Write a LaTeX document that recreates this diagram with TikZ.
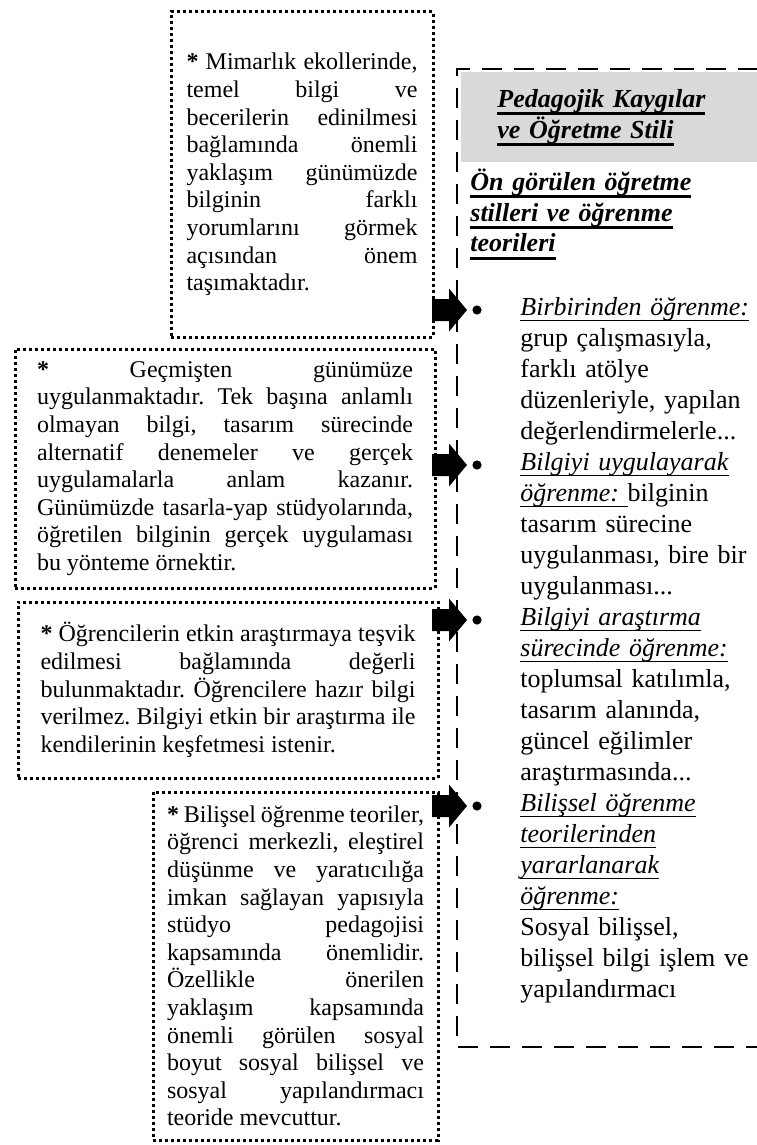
\documentclass[tikz,border=0pt]{standalone}
\usepackage{fontspec}
\setmainfont{Liberation Serif}
\frenchspacing

\definecolor{hdrgray}{HTML}{D9D9D9}
\newcommand{\boxfont}{\fontsize{12pt}{13.8pt}\selectfont\lineskiplimit=-20pt\lineskip=0pt}
\newcommand{\panelfont}{\fontsize{13pt}{15.5pt}\selectfont\lineskiplimit=-20pt\lineskip=0pt}
\newcommand{\ulx}[3]{\leavevmode\setbox0\hbox{#3}\rlap{\rule[#2]{\wd0}{#1}}\box0}
\newcommand{\thickul}[1]{\ulx{1.3pt}{-3.8pt}{#1}}
\newcommand{\thinul}[1]{\ulx{0.7pt}{-3.2pt}{#1}}

\tikzset{
  notebox/.style={draw, line width=1.5pt, dash pattern=on 1.5pt off 1.5pt,
    align=justify, inner ysep=0pt, font=\boxfont},
  panelline/.style={line width=1pt, dash pattern=on 10pt off 6pt},
  paneltext/.style={anchor=base west, inner sep=0pt, text width=122pt, align=left, font=\panelfont},
  dot/.style={circle, fill, inner sep=0pt, minimum size=4.6pt}
}

\begin{document}
\begin{tikzpicture}[x=0.5pt, y=-0.5pt]
  \useasboundingbox (0,0) rectangle (756,1145);

  % Right panel: heading and frame
  \node[fill=hdrgray, anchor=north west, minimum width=150pt, minimum height=45pt,
        inner xsep=18pt, text width=114pt, align=left, font=\panelfont\bfseries\itshape]
        (hdr) at (461,72) {\thickul{Pedagojik Kaygılar}\\\thickul{ve Öğretme Stili}};
  \draw[panelline] (790,69) -- (457,69) -- (457,1047) -- (790,1047);

  \node[paneltext, font=\panelfont\bfseries\itshape] (sub) at (470,190)
    {\thickul{Ön görülen öğretme}\\\thickul{stilleri ve öğrenme}\\\thickul{teorileri}};

  % Right panel: items
  \node[dot] (d1) at (477,310) {};
  \node[paneltext] (it1) at (520,315)
    {\thinul{\textit{Birbirinden öğrenme:}}\\grup çalışmasıyla,\\farklı atölye\\düzenleriyle, yapılan\\değerlendirmelerle...};
  \node[dot] (d2) at (477,465) {};
  \node[paneltext] (it2) at (520,470)
    {\thinul{\textit{Bilgiyi uygulayarak}}\\\thinul{\textit{öğrenme:}\ }bilginin\\tasarım sürecine\\uygulanması, bire bir\\uygulanması...};
  \node[dot] (d3) at (477,620) {};
  \node[paneltext] (it3) at (520,625)
    {\thinul{\textit{Bilgiyi araştırma}}\\\thinul{\textit{sürecinde öğrenme:}}\\toplumsal katılımla,\\tasarım alanında,\\güncel eğilimler\\araştırmasında...};
  \node[dot] (d4) at (477,806) {};
  \node[paneltext] (it4) at (520,811)
    {\thinul{\textit{Bilişsel öğrenme}}\\\thinul{\textit{teorilerinden}}\\\thinul{\textit{yararlanarak}}\\\thinul{\textit{öğrenme:}}\\Sosyal bilişsel,\\bilişsel bilgi işlem ve\\yapılandırmacı};

  % Left notes
  \node[notebox, minimum width=131pt, minimum height=162.5pt, text width=115.5pt, inner xsep=7.75pt]
    (note1) at (302,174.5)
    {\textbf{*} Mimarlık ekollerinde,\linebreak
     temel bilgi ve\linebreak
     becerilerin edinilmesi\linebreak
     bağlamında önemli\linebreak
     yaklaşım günümüzde\linebreak
     bilginin farklı\linebreak
     yorumlarını görmek\linebreak
     açısından önem\linebreak
     taşımaktadır.};
  \node[notebox, minimum width=210pt, minimum height=119.5pt, text width=188pt, inner xsep=11pt]
    (note2) at (225,468.5)
    {\textbf{*} Geçmişten günümüze\linebreak
     uygulanmaktadır. Tek başına anlamlı\linebreak
     olmayan bilgi, tasarım sürecinde\linebreak
     alternatif denemeler ve gerçek\linebreak
     uygulamalarla anlam kazanır.\linebreak
     Günümüzde tasarla-yap stüdyolarında,\linebreak
     öğretilen bilginin gerçek uygulaması\linebreak
     bu yönteme örnektir.};
  \node[notebox, minimum width=210pt, minimum height=88pt, text width=187.5pt, inner xsep=11.25pt]
    (note3) at (228,690)
    {\textbf{*} Öğrencilerin etkin araştırmaya teşvik\linebreak
     edilmesi bağlamında değerli\linebreak
     bulunmaktadır. Öğrencilere hazır bilgi\linebreak
     verilmez. Bilgiyi etkin bir araştırma ile\linebreak
     kendilerinin keşfetmesi istenir.};
  \node[notebox, minimum width=142.5pt, minimum height=174pt, text width=128.5pt, inner xsep=7pt]
    (note4) at (295.5,966)
    {\textbf{*} Bilişsel öğrenme teoriler,\linebreak
     öğrenci merkezli, eleştirel\linebreak
     düşünme ve yaratıcılığa\linebreak
     imkan sağlayan yapısıyla\linebreak
     stüdyo pedagojisi\linebreak
     kapsamında önemlidir.\linebreak
     Özellikle önerilen\linebreak
     yaklaşım kapsamında\linebreak
     önemli görülen sosyal\linebreak
     boyut sosyal bilişsel ve\linebreak
     sosyal yapılandırmacı\linebreak
     teoride mevcuttur.};

  % Block arrows from the notes to the items
  \coordinate (ax) at (432,0);
  \foreach \d in {d1,d2,d3,d4}
    \fill (ax |- \d.center) ++(0,-11) -- ++(17,0) -- ++(0,-10.5) -- ++(18,21.5)
      -- ++(-18,21.5) -- ++(0,-10.5) -- ++(-17,0) -- cycle;

\end{tikzpicture}
\end{document}
